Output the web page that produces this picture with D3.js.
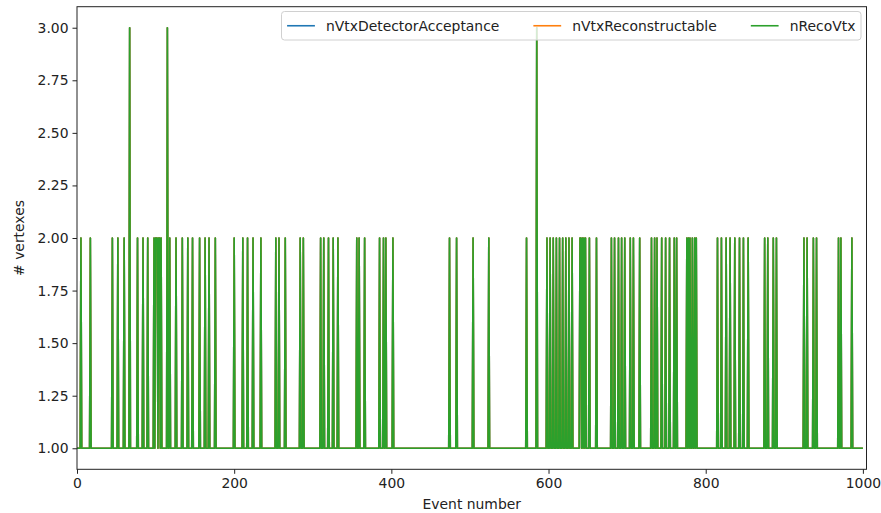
<!DOCTYPE html>
<html>
<head>
<meta charset="utf-8">
<script src="https://cdn.jsdelivr.net/npm/d3@7"></script>
<style>
  html, body { margin: 0; padding: 0; background: #fff; }
  svg { display: block; font-family: "DejaVu Sans", sans-serif; }
</style>
</head>
<body>
<svg id="chart" width="881" height="513"></svg>
<script>
// ---- Data ----
const nEvents = 1001; // events 0..1000
const seriesNames = ["nVtxDetectorAcceptance", "nVtxReconstructable", "nRecoVtx"];
const seriesColors = ["#1f77b4", "#ff7f0e", "#2ca02c"];
// events with 2 vertices
const twoVertexEvents = [5, 17, 45, 52, 60, 77, 84, 90, 98, 100, 101, 102, 104, 105, 107,
  118, 126, 134, 141, 147, 156, 163, 168, 176, 200, 211, 217, 224, 234, 253, 257, 265,
  284, 288, 310, 314, 320, 326, 332, 356, 359, 366, 385, 390, 393, 402, 474, 483, 504,
  524, 572, 598, 602, 606, 610, 614, 618, 622, 626, 630, 640, 641, 643, 645, 647, 652,
  661, 680, 684, 689, 693, 697, 704, 708, 716, 731, 735, 738, 744, 749, 754, 760, 763,
  776, 778, 780, 783, 786, 788, 815, 820, 826, 831, 837, 843, 848, 854, 875, 879, 886,
  890, 925, 929, 937, 941, 969, 972, 986];
// events with 3 vertices
const threeVertexEvents = [67, 115, 585];
const xTicks = [0, 200, 400, 600, 800, 1000];
const yTicks = [1.00, 1.25, 1.50, 1.75, 2.00, 2.25, 2.50, 2.75, 3.00];

const vertexCounts = Array.from({length: nEvents}, (_, e) =>
  threeVertexEvents.includes(e) ? 3 : (twoVertexEvents.includes(e) ? 2 : 1));
const seriesValues = [vertexCounts, vertexCounts, vertexCounts];

(function draw() {
  const svg = d3.select("#chart");
  const pL = 77, pR = 866.5, pT = 6.7, pB = 469.3;
  const fontSize = 13.9;

  const x = d3.scaleLinear().domain([0, 1004.6]).range([pL, pR]);
  const y = d3.scaleLinear().domain([0.9, 3.1]).range([pB, pT]);

  svg.append("defs").append("clipPath").attr("id", "clip")
    .append("rect").attr("x", pL).attr("y", pT).attr("width", pR - pL).attr("height", pB - pT);

  const line = d3.line().x((d, i) => x(i)).y(d => y(d));
  const gLines = svg.append("g").attr("clip-path", "url(#clip)");
  seriesValues.forEach((vals, k) => {
    gLines.append("path")
      .datum(vals)
      .attr("fill", "none")
      .attr("stroke", seriesColors[k])
      .attr("stroke-width", 1.6)
      .attr("stroke-linejoin", "round")
      .attr("d", line);
  });

  const xAxis = d3.axisBottom(x).tickValues(xTicks).tickFormat(d3.format("d")).tickSizeOuter(0).tickSize(4.5).tickPadding(4);
  const yAxis = d3.axisLeft(y).tickValues(yTicks).tickFormat(d3.format(".2f")).tickSizeOuter(0).tickSize(4.5).tickPadding(4);

  const gx = svg.append("g").attr("transform", `translate(0,${pB})`).call(xAxis);
  const gy = svg.append("g").attr("transform", `translate(${pL},0)`).call(yAxis);
  [gx, gy].forEach(g => {
    g.select(".domain").remove();
    g.selectAll("line").attr("stroke", "#222").attr("stroke-width", 1);
    g.selectAll("text").attr("font-size", fontSize).attr("fill", "#222")
      .attr("font-family", "DejaVu Sans, sans-serif");
  });

  svg.append("rect").attr("x", pL).attr("y", pT).attr("width", pR - pL).attr("height", pB - pT)
    .attr("fill", "none").attr("stroke", "#222").attr("stroke-width", 1);

  svg.append("text").attr("x", (pL + pR) / 2).attr("y", 509)
    .attr("text-anchor", "middle").attr("font-size", fontSize).attr("fill", "#222").text("Event number");
  svg.append("text").attr("transform", `translate(24,${(pT + pB) / 2}) rotate(-90)`)
    .attr("text-anchor", "middle").attr("font-size", fontSize).attr("fill", "#222").text("# vertexes");

  // legend: fixed box, matplotlib-like spacing, columns spread to fill the box
  const lg = svg.append("g");
  const legLeft = 281.5, legRight = 861, legTop = 11.5, legH = 28.5;
  const pad = 5.6, handleLen = 27.8, textPad = 11.1;
  lg.append("rect").attr("x", legLeft).attr("y", legTop).attr("width", legRight - legLeft).attr("height", legH)
    .attr("rx", 3).attr("fill", "rgba(255,255,255,0.8)").attr("stroke", "#d0d0d0").attr("stroke-width", 1);
  const cy = legTop + legH / 2;
  const texts = seriesNames.map(name => lg.append("text").attr("y", cy).attr("dominant-baseline", "central")
      .attr("font-size", fontSize).attr("fill", "#222").text(name));
  const widths = texts.map(t => t.node().getComputedTextLength());
  const used = 2 * pad + 3 * (handleLen + textPad) + d3.sum(widths);
  const colSpace = (legRight - legLeft - used) / 2;
  let cx = legLeft + pad;
  seriesNames.forEach((name, i) => {
    lg.append("line").attr("x1", cx).attr("x2", cx + handleLen).attr("y1", cy).attr("y2", cy)
      .attr("stroke", seriesColors[i]).attr("stroke-width", 1.6);
    texts[i].attr("x", cx + handleLen + textPad);
    cx += handleLen + textPad + widths[i] + colSpace;
  });
})();
</script>
</body>
</html>
